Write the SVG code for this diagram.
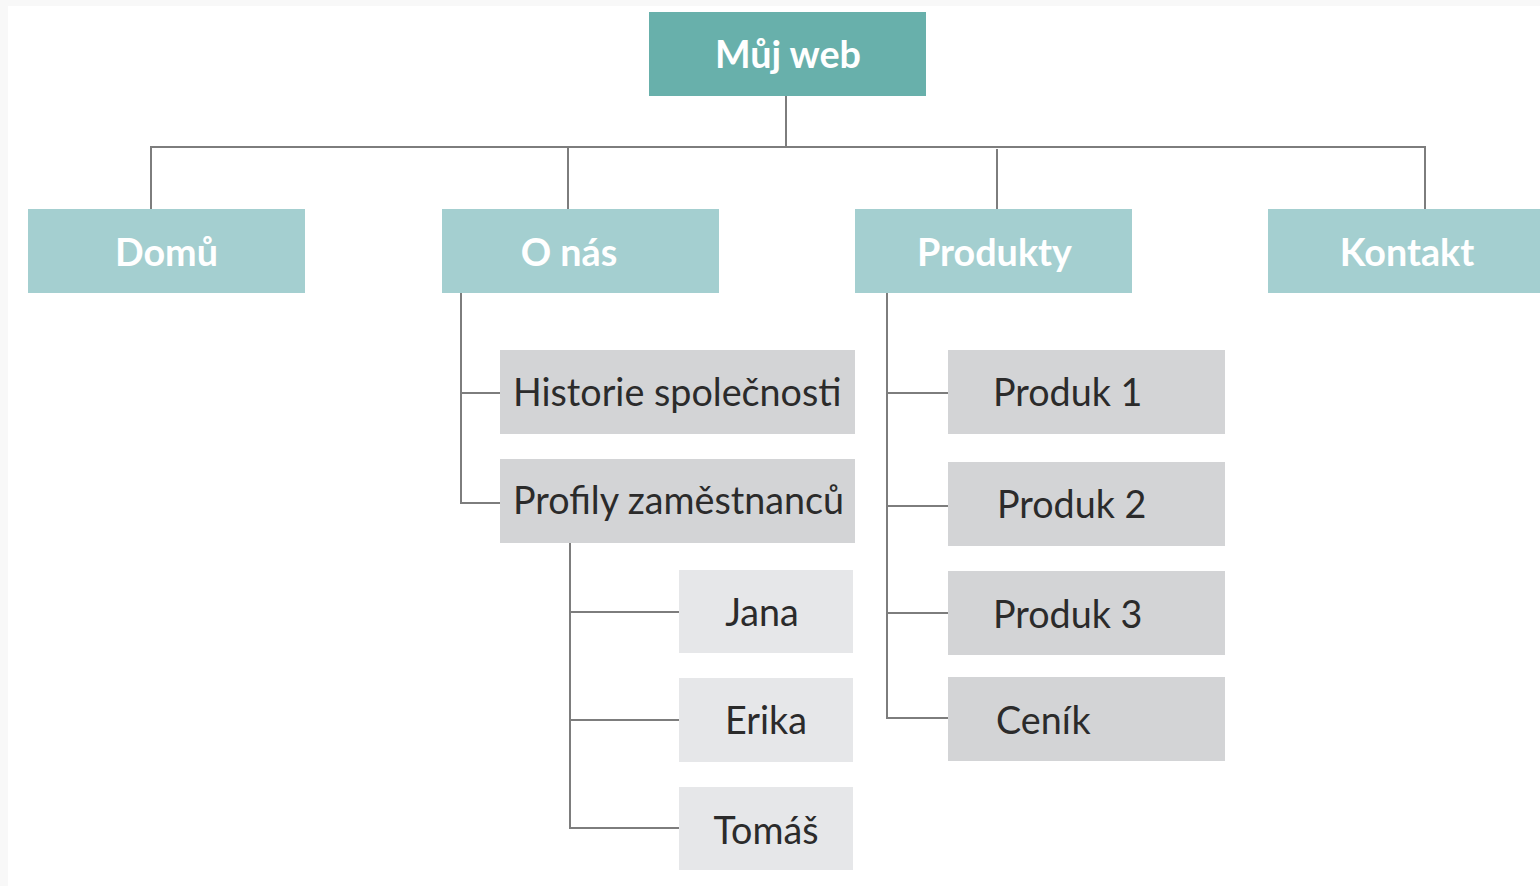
<svg xmlns="http://www.w3.org/2000/svg" width="1540" height="886" viewBox="0 0 1540 886">
<style>
.root{fill:#68b0ab}
.l1{fill:#a4cfd0}
.l2{fill:#d3d4d6}
.l3{fill:#e6e7e9}
.wt{font-family:Lato,"Open Sans",sans-serif;font-weight:bold;fill:#ffffff;font-size:37.7px}
.dt{font-family:Lato,"Open Sans",sans-serif;fill:#2b2b2b;font-size:37.7px}
.c{fill:none;stroke:#7d7d7d;stroke-width:2}
</style>
<rect x="0" y="0" width="1540" height="886" fill="#ffffff"/>
<rect x="0" y="0" width="1540" height="6" fill="#f8f8f8"/>
<rect x="0" y="0" width="8" height="886" fill="#f8f8f8"/>
<g id="connectors">
<path class="c" d="M786,96 V148"/>
<path class="c" d="M151,209 V147 H1425 V209"/>
<path class="c" d="M568,148 V209"/>
<path class="c" d="M997,149 V209"/>
<path class="c" d="M461,293 V503 H500"/>
<path class="c" d="M461,393 H500"/>
<path class="c" d="M570,543 V828 H679"/>
<path class="c" d="M570,612 H679"/>
<path class="c" d="M570,720 H679"/>
<path class="c" d="M887,293 V718 H948"/>
<path class="c" d="M887,393 H948"/>
<path class="c" d="M887,506 H948"/>
<path class="c" d="M887,613 H948"/>
</g>
<g id="root"><rect class="root" x="649" y="12" width="277" height="84"/><text class="wt" x="788" y="68" text-anchor="middle">Můj web</text></g>
<g id="domu"><rect class="l1" x="28" y="209" width="277" height="84"/><text class="wt" x="166.5" y="266" text-anchor="middle">Domů</text></g>
<g id="onas"><rect class="l1" x="442" y="209" width="277" height="84"/><text class="wt" x="569" y="266" text-anchor="middle">O nás</text></g>
<g id="produkty"><rect class="l1" x="855" y="209" width="277" height="84"/><text class="wt" x="994.5" y="266" text-anchor="middle">Produkty</text></g>
<g id="kontakt"><rect class="l1" x="1268" y="209" width="272" height="84"/><text class="wt" x="1407" y="266" text-anchor="middle">Kontakt</text></g>
<g id="historie"><rect class="l2" x="500" y="350" width="355" height="84"/><text class="dt" x="513" y="406">Historie společnosti</text></g>
<g id="profily"><rect class="l2" x="500" y="459" width="355" height="84"/><text class="dt" x="513" y="514">Profily zaměstnanců</text></g>
<g id="jana"><rect class="l3" x="679" y="570" width="174" height="83"/><text class="dt" x="762" y="626" text-anchor="middle">Jana</text></g>
<g id="erika"><rect class="l3" x="679" y="678" width="174" height="84"/><text class="dt" x="766" y="734" text-anchor="middle">Erika</text></g>
<g id="tomas"><rect class="l3" x="679" y="787" width="174" height="83"/><text class="dt" x="766" y="844" text-anchor="middle">Tomáš</text></g>
<g id="produk1"><rect class="l2" x="948" y="350" width="277" height="84"/><text class="dt" x="993" y="406">Produk 1</text></g>
<g id="produk2"><rect class="l2" x="948" y="462" width="277" height="84"/><text class="dt" x="997" y="518">Produk 2</text></g>
<g id="produk3"><rect class="l2" x="948" y="571" width="277" height="84"/><text class="dt" x="993" y="628">Produk 3</text></g>
<g id="cenik"><rect class="l2" x="948" y="677" width="277" height="84"/><text class="dt" x="996" y="734">Ceník</text></g>
</svg>
